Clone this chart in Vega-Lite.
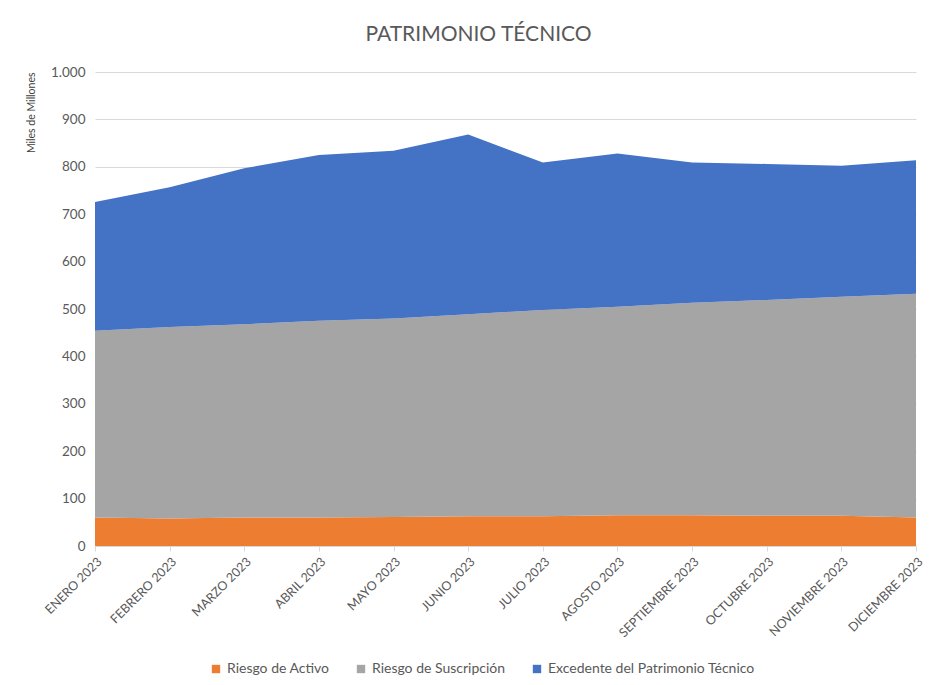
{
  "$schema": "https://vega.github.io/schema/vega-lite/v6.json",
  "autosize": "none",
  "width": 821,
  "height": 474,
  "padding": {"left": 95, "top": 72, "right": 16, "bottom": 139},
  "background": "white",
  "title": {
    "text": "PATRIMONIO TÉCNICO",
    "font": "Lato",
    "fontSize": 21,
    "fontWeight": "normal",
    "color": "#595959",
    "offset": 20,
    "dx": -27
  },
  "config": {
    "font": "Lato",
    "view": {"stroke": null}
  },
  "datasets": {
    "series": [
      {"serie": "Riesgo de Activo", "orden": 3},
      {"serie": "Riesgo de Suscripción", "orden": 2},
      {"serie": "Excedente del  Patrimonio Técnico", "orden": 1}
    ]
  },
  "data": {
    "values": [
      {"mes": "ENERO 2023", "serie": "Riesgo de Activo", "valor": 60},
      {"mes": "FEBRERO 2023", "serie": "Riesgo de Activo", "valor": 58},
      {"mes": "MARZO 2023", "serie": "Riesgo de Activo", "valor": 60},
      {"mes": "ABRIL 2023", "serie": "Riesgo de Activo", "valor": 60},
      {"mes": "MAYO 2023", "serie": "Riesgo de Activo", "valor": 61},
      {"mes": "JUNIO 2023", "serie": "Riesgo de Activo", "valor": 63},
      {"mes": "JULIO 2023", "serie": "Riesgo de Activo", "valor": 63},
      {"mes": "AGOSTO 2023", "serie": "Riesgo de Activo", "valor": 65},
      {"mes": "SEPTIEMBRE 2023", "serie": "Riesgo de Activo", "valor": 65},
      {"mes": "OCTUBRE 2023", "serie": "Riesgo de Activo", "valor": 64},
      {"mes": "NOVIEMBRE 2023", "serie": "Riesgo de Activo", "valor": 64},
      {"mes": "DICIEMBRE 2023", "serie": "Riesgo de Activo", "valor": 60},
      {"mes": "ENERO 2023", "serie": "Riesgo de Suscripción", "valor": 394},
      {"mes": "FEBRERO 2023", "serie": "Riesgo de Suscripción", "valor": 404},
      {"mes": "MARZO 2023", "serie": "Riesgo de Suscripción", "valor": 408},
      {"mes": "ABRIL 2023", "serie": "Riesgo de Suscripción", "valor": 415},
      {"mes": "MAYO 2023", "serie": "Riesgo de Suscripción", "valor": 419},
      {"mes": "JUNIO 2023", "serie": "Riesgo de Suscripción", "valor": 426},
      {"mes": "JULIO 2023", "serie": "Riesgo de Suscripción", "valor": 435},
      {"mes": "AGOSTO 2023", "serie": "Riesgo de Suscripción", "valor": 440},
      {"mes": "SEPTIEMBRE 2023", "serie": "Riesgo de Suscripción", "valor": 448},
      {"mes": "OCTUBRE 2023", "serie": "Riesgo de Suscripción", "valor": 455},
      {"mes": "NOVIEMBRE 2023", "serie": "Riesgo de Suscripción", "valor": 462},
      {"mes": "DICIEMBRE 2023", "serie": "Riesgo de Suscripción", "valor": 472},
      {"mes": "ENERO 2023", "serie": "Excedente del  Patrimonio Técnico", "valor": 272},
      {"mes": "FEBRERO 2023", "serie": "Excedente del  Patrimonio Técnico", "valor": 295},
      {"mes": "MARZO 2023", "serie": "Excedente del  Patrimonio Técnico", "valor": 329},
      {"mes": "ABRIL 2023", "serie": "Excedente del  Patrimonio Técnico", "valor": 350},
      {"mes": "MAYO 2023", "serie": "Excedente del  Patrimonio Técnico", "valor": 354},
      {"mes": "JUNIO 2023", "serie": "Excedente del  Patrimonio Técnico", "valor": 379},
      {"mes": "JULIO 2023", "serie": "Excedente del  Patrimonio Técnico", "valor": 311},
      {"mes": "AGOSTO 2023", "serie": "Excedente del  Patrimonio Técnico", "valor": 323},
      {"mes": "SEPTIEMBRE 2023", "serie": "Excedente del  Patrimonio Técnico", "valor": 296},
      {"mes": "OCTUBRE 2023", "serie": "Excedente del  Patrimonio Técnico", "valor": 287},
      {"mes": "NOVIEMBRE 2023", "serie": "Excedente del  Patrimonio Técnico", "valor": 276},
      {"mes": "DICIEMBRE 2023", "serie": "Excedente del  Patrimonio Técnico", "valor": 282}
    ]
  },
  "transform": [
    {"lookup": "serie", "from": {"data": {"name": "series"}, "key": "serie", "fields": ["orden"]}}
  ],
  "mark": {"type": "area", "opacity": 1},
  "encoding": {
    "x": {
      "field": "mes",
      "type": "ordinal",
      "sort": null,
      "scale": {"type": "point", "padding": 0},
      "axis": {
        "title": null,
        "labelAngle": -45,
        "labelAlign": "right",
        "labelBaseline": "top",
        "labelFontSize": 12.5,
        "labelColor": "#595959",
        "labelPadding": 4,
        "domainColor": "#d9d9d9",
        "tickColor": "#d9d9d9",
        "tickSize": 5,
        "grid": false
      }
    },
    "y": {
      "field": "valor",
      "type": "quantitative",
      "stack": "zero",
      "scale": {"domain": [0, 1000]},
      "axis": {
        "title": "Miles de Millones",
        "titleFontSize": 10.5,
        "titleFontWeight": "normal",
        "titleColor": "#404040",
        "titleAnchor": "end",
        "titlePadding": 14,
        "values": [0, 100, 200, 300, 400, 500, 600, 700, 800, 900, 1000],
        "labelExpr": "replace(format(datum.value, ',d'), ',', '.')",
        "labelFontSize": 13.5,
        "labelColor": "#595959",
        "labelPadding": 10,
        "domain": false,
        "ticks": false,
        "gridColor": "#d9d9d9"
      }
    },
    "order": {"field": "orden", "type": "quantitative", "sort": "descending"},
    "color": {
      "field": "serie",
      "type": "nominal",
      "sort": ["Riesgo de Activo", "Riesgo de Suscripción", "Excedente del  Patrimonio Técnico"],
      "scale": {
        "domain": ["Riesgo de Activo", "Riesgo de Suscripción", "Excedente del  Patrimonio Técnico"],
        "range": ["#ED7D31", "#A5A5A5", "#4472C4"]
      },
      "legend": {
        "title": null,
        "orient": "none",
        "legendX": 114,
        "legendY": 590,
        "padding": 0,
        "direction": "horizontal",
        "symbolType": "square",
        "symbolSize": 70,
        "symbolStrokeWidth": 0,
        "labelFontSize": 14,
        "labelColor": "#595959",
        "labelLimit": 0,
        "columnPadding": 24
      }
    }
  }
}
